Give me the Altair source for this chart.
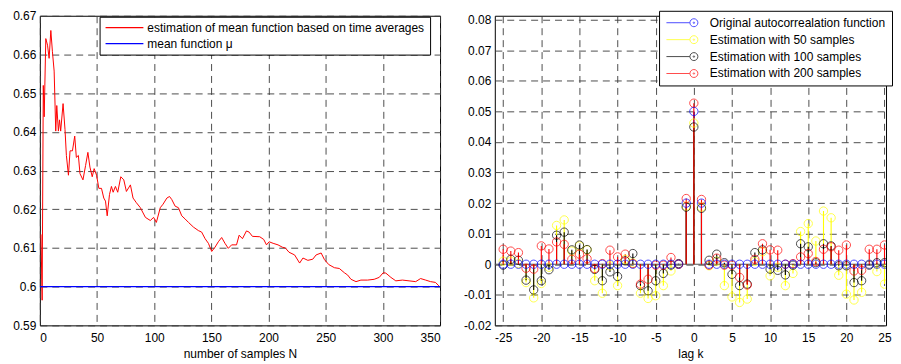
import altair as alt
import pandas as pd

FONT = "Liberation Sans"

# ---------------- left panel data ----------------
LEFT_SERIES = ["estimation of mean function based on time averages", "mean function \u03bc"]
MU = [0.6]
N = [1, 2, 3, 3.8, 5.2, 6.7, 8.1, 9.6, 11, 12.5, 13.9, 14.8, 16.2, 17.2, 18.2, 20.3, 22, 23.2,
     25, 26.4, 28.5, 30.5, 31.9, 33.7, 35.1, 37.7, 40, 42, 43.8, 45.8, 47.5, 49.6, 51.6, 53.9,
     55.9, 57.4, 58.9, 60.9, 62.6, 64.1, 66.1, 68.1, 70.8, 73.4, 75.7, 79.2, 81.5, 84.4, 87.9,
     92.3, 96.6, 99.5, 101.9, 105.3, 107.7, 111.1, 113.4, 115.4, 118.3, 121.2, 124.1, 127, 130,
     134.3, 138.6, 141.5, 144.5, 147.4, 150.3, 153.2, 156.1, 159, 161.9, 164.8, 167.7, 172,
     174.3, 177.2, 180.7, 183, 185.9, 192.3, 195.8, 198.2, 200.5, 204, 208.3, 212.1, 214.7,
     217.9, 222.8, 227.2, 230.1, 234.4, 238.7, 241.6, 246, 248.9, 252.7, 257.6, 261.9, 266.3,
     269.2, 272.1, 276.5, 280.8, 286.6, 292.4, 296.8, 300.3, 302.6, 307, 311.3, 317.1, 322.9,
     328.7, 333, 337.4, 341.7, 346, 349]
EST = [0.6135, 0.5965, 0.652, 0.6439, 0.6641, 0.6624, 0.659, 0.6662, 0.6607, 0.6557, 0.6402,
       0.6468, 0.6402, 0.6431, 0.6402, 0.6473, 0.6406, 0.6339, 0.6288, 0.6351, 0.6351, 0.6389,
       0.6334, 0.6339, 0.6292, 0.6276, 0.6313, 0.6347, 0.6309, 0.6284, 0.6305, 0.6288, 0.6254,
       0.6254, 0.6229, 0.6221, 0.6183, 0.6238, 0.6259, 0.6244, 0.6259, 0.6244, 0.6284, 0.6276,
       0.6246, 0.6263, 0.6229, 0.6217, 0.6204, 0.6179, 0.6171, 0.6179, 0.6166, 0.6204, 0.6213,
       0.6229, 0.6233, 0.6225, 0.6208, 0.6204, 0.6183, 0.6175, 0.6166, 0.6154, 0.6145, 0.6141,
       0.6124, 0.6112, 0.6091, 0.6102, 0.6116, 0.6127, 0.6112, 0.6099, 0.6108, 0.6108, 0.6133,
       0.6124, 0.6144, 0.6141, 0.613, 0.6129, 0.6122, 0.6108, 0.6116, 0.6112, 0.6108, 0.6102,
       0.61, 0.6089, 0.6082, 0.6061, 0.6074, 0.6068, 0.6071, 0.6082, 0.6087, 0.607, 0.6057,
       0.6049, 0.6047, 0.6036, 0.603, 0.6019, 0.6013, 0.6017, 0.6017, 0.6019, 0.6024, 0.6036,
       0.6035, 0.6024, 0.6015, 0.6017, 0.6015, 0.6013, 0.6021, 0.6017, 0.6013, 0.6011, 0.6002]
LEFT_X_TICKS = [0, 50, 100, 150, 200, 250, 300, 350]
LEFT_Y_TICKS = [0.59, 0.6, 0.61, 0.62, 0.63, 0.64, 0.65, 0.66, 0.67]

# ---------------- right panel data ----------------
RIGHT_SERIES = ["Original autocorrealation function", "Estimation with 50 samples",
                "Estimation with 100 samples", "Estimation with 200 samples"]
LAGS = list(range(-25, 26))
ORIG = [0, 0, 0, 0, 0, 0, 0, 0, 0, 0, 0, 0, 0, 0, 0, 0, 0, 0, 0, 0, 0, 0, 0, 0, 0.02,
        0.05,
        0.02, 0, 0, 0, 0, 0, 0, 0, 0, 0, 0, 0, 0, 0, 0, 0, 0, 0, 0, 0, 0, 0, 0, 0, 0]
EST50 = [0.001, 0.001, 0.0002, -0.006, -0.011, -0.0063, -0.001, 0.0127, 0.0145, 0.0043, 0.006,
         0.0047, -0.0054, -0.0095, -0.0005, -0.007, 0.0016, 0.0004, -0.0095, -0.0112, -0.0103,
         -0.007, -0.0022, 0.0, 0.019,
         0.0462,
         0.0187, -0.0005, 0.001, -0.007, -0.0107, -0.0125, -0.0114, 0.0009, 0.0041, -0.0038,
         -0.001, -0.007, -0.003, 0.0107, 0.0133, 0.0076, 0.0174, 0.0152, -0.0036, -0.0098,
         -0.0117, -0.0092, 0.0, -0.0024, -0.0065]
EST100 = [-0.0003, 0.0016, 0.0013, -0.0052, -0.0084, -0.0054, -0.0018, 0.0095, 0.0105, 0.0047,
          0.0063, 0.0048, -0.0017, -0.0054, -0.0025, -0.004, 0.0011, 0.0035, -0.007, -0.0087,
          -0.0054, -0.003, -0.0003, 0.0002, 0.0187,
          0.0449,
          0.0183, 0.0013, 0.0033, 0.0005, -0.0033, -0.007, -0.0065, 0.0038, 0.0047, -0.0016,
          -0.002, -0.0035, -0.0003, 0.0067, 0.0057, 0.0005, 0.0067, 0.006, -0.0005, -0.0005,
          -0.006, -0.0054, -0.0003, 0.0005, 0.0005]
EST200 = [0.0049, 0.0043, 0.0038, -0.0013, -0.0016, 0.006, 0.005, 0.0073, 0.0065, 0.0016,
          0.0033, 0.0018, -0.0014, 0.0002, 0.0046, 0.0024, 0.0033, 0.0002, -0.0065, -0.0049,
          -0.0003, -0.0003, 0.0022, 0.0, 0.0215,
          0.0527,
          0.0212, -0.0003, 0.002, -0.0003, -0.0003, -0.0043, -0.0068, 0.0016, 0.0067, 0.0047,
          0.0046, 0.0, 0.0002, 0.0024, 0.0035, 0.0009, 0.0049, 0.0057, 0.0046, 0.0063, -0.0022,
          -0.002, 0.0049, 0.0049, 0.0063]
RIGHT_X_TICKS = [-25, -20, -15, -10, -5, 0, 5, 10, 15, 20, 25]
RIGHT_Y_TICKS = [-0.02, -0.01, 0, 0.01, 0.02, 0.03, 0.04, 0.05, 0.06, 0.07, 0.08]
RIGHT_COLORS = ["#0000ff", "#ffff00", "#000000", "#ff0000"]

SIGNED_FMT = "(datum.value < 0 ? '-' : '') + format(abs(datum.value), '{f}')"

# ---------------- left chart ----------------
left_df = pd.DataFrame({"N": N, "value": EST, "series": LEFT_SERIES[0]})
mu_df = pd.DataFrame({"mu": MU, "series": [LEFT_SERIES[1]]})

left_color_scale = alt.Scale(domain=LEFT_SERIES, range=["#ff0000", "#0000ff"])
left_legend = alt.Legend(
    title=None, orient="none", legendX=60, legendY=1, fillColor="white", strokeColor="black",
    padding=5, symbolType="stroke", symbolSize=1444, symbolStrokeWidth=1.3,
    labelFont=FONT, labelFontSize=12, labelColor="black", labelOffset=3, labelLimit=500,
    rowPadding=4, cornerRadius=0, clipHeight=12,
)
xL = alt.X("N:Q", scale=alt.Scale(domain=[0, 350], nice=False, zero=False),
           axis=alt.Axis(values=LEFT_X_TICKS, tickCount=50, title="number of samples N",
                         labelOverlap=False, labelExpr="format(datum.value, 'd')"))
yL = alt.Y("value:Q", scale=alt.Scale(domain=[0.59, 0.67], nice=False, zero=False),
           axis=alt.Axis(values=LEFT_Y_TICKS, tickCount=50, title=None, labelOverlap=False,
                         labelExpr="format(datum.value, '.2~f')"))

left_line = alt.Chart(left_df).mark_line(strokeWidth=1, clip=True).encode(
    x=xL, y=yL,
    color=alt.Color("series:N", scale=left_color_scale, legend=left_legend),
)
left_mu = alt.Chart(mu_df).mark_rule(strokeWidth=1.2).encode(
    y=alt.Y("mu:Q"),
    color=alt.Color("series:N", scale=left_color_scale, legend=left_legend),
)
left = alt.layer(left_line, left_mu).properties(width=402, height=311)

# ---------------- right chart ----------------
rows_stem = []
for name, vals in zip(RIGHT_SERIES, [ORIG, EST50, EST100, EST200]):
    for k, v in zip(LAGS, vals):
        rows_stem.append({"k": k, "value": v, "series": name})
stem_df = pd.DataFrame(rows_stem)
pts_order = [RIGHT_SERIES[1], RIGHT_SERIES[2], RIGHT_SERIES[3], RIGHT_SERIES[0]]
pts_df = pd.concat([stem_df[stem_df.series == s] for s in pts_order], ignore_index=True)

right_color_scale = alt.Scale(domain=RIGHT_SERIES, range=RIGHT_COLORS)
# legend glyph: a short line running into an open circle with a centre dot
LEG_PATH = ("M-6.9,0L-1,0"
            "M1,0A1,1,0,1,1,-1,0A1,1,0,1,1,1,0"
            "M0.18,0A0.18,0.18,0,1,1,-0.18,0A0.18,0.18,0,1,1,0.18,0")
right_legend = alt.Legend(
    title=None, orient="none", legendX=165, legendY=-5, fillColor="white",
    strokeColor="black", padding=6, symbolType=LEG_PATH, symbolSize=64,
    symbolStrokeWidth=1, symbolFillColor="transparent", symbolOffset=23,
    labelFont=FONT, labelFontSize=12, labelColor="black", labelOffset=10, labelLimit=500,
    rowPadding=5, cornerRadius=0, clipHeight=12,
)
RDOM_X = [-26.1, 25.2]
RDOM_Y = [-0.02, 0.0813]
xR = alt.X("k:Q", scale=alt.Scale(domain=RDOM_X, nice=False, zero=False),
           axis=alt.Axis(values=RIGHT_X_TICKS, tickCount=50, title="lag k", labelOverlap=False,
                         labelExpr=SIGNED_FMT.format(f="d")))
yR = alt.Y("value:Q", scale=alt.Scale(domain=RDOM_Y, nice=False, zero=False),
           axis=alt.Axis(values=RIGHT_Y_TICKS, tickCount=50, title=None, labelOverlap=False,
                         labelExpr=SIGNED_FMT.format(f=".2~f")))

baseline = alt.Chart(pd.DataFrame({"b": [0.0]})).mark_rule(
    color="#555555", strokeWidth=1).encode(y=alt.Y("b:Q", scale=alt.Scale(domain=RDOM_Y, nice=False)))
stems = alt.Chart(stem_df).mark_rule(strokeWidth=1.1, clip=True).encode(
    x=xR, y=yR, y2=alt.datum(0),
    color=alt.Color("series:N", scale=right_color_scale, legend=right_legend),
)
points = alt.Chart(pts_df).mark_point(filled=False, shape="circle", size=70,
                                      strokeWidth=1, clip=True).encode(
    x=xR, y=yR,
    color=alt.Color("series:N", scale=right_color_scale, legend=right_legend),
)
right = alt.layer(baseline, stems, points).properties(width=393, height=311)

chart = alt.hconcat(left, right, spacing=21).resolve_scale(color="independent").properties(
    padding={"left": 4, "top": 0, "right": 0, "bottom": 0}
).configure_view(stroke="black", strokeWidth=1).configure_axis(
    domain=False, ticks=False, grid=True, gridColor="#3a3a3a", gridDash=[7, 5], gridWidth=1,
    gridOpacity=0.9, labelFont=FONT, labelFontSize=12, labelColor="black", labelPadding=4,
    titleFont=FONT, titleFontSize=12, titleFontWeight="normal", titleColor="black",
    titlePadding=5,
).configure_axisX(labelPadding=7)

chart.save("out.html", embed_options={"renderer": "svg", "actions": False})
